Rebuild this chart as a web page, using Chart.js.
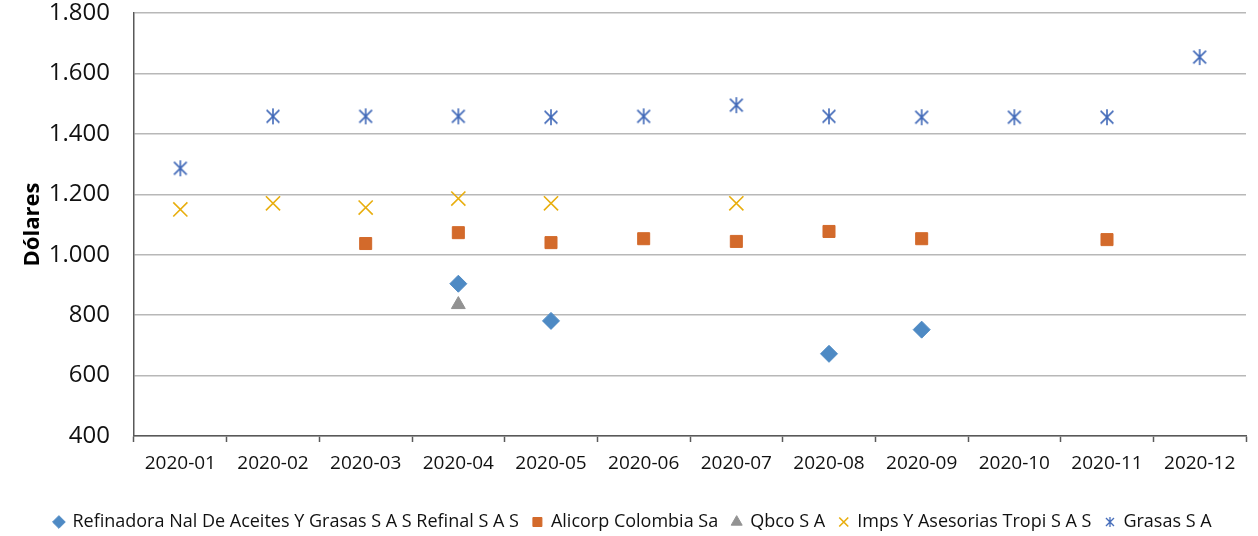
<!DOCTYPE html>
<html>
<head>
<meta charset="utf-8">
<script src="https://cdn.jsdelivr.net/npm/chart.js@4/dist/chart.umd.min.js"></script>
<style>
  html, body { margin: 0; padding: 0; background: #fff; }
  #wrap { width: 1258px; height: 536px; position: relative; }
</style>
</head>
<body>
<div id="wrap"><canvas id="chart"></canvas></div>
<script>
const months = ["2020-01", "2020-02", "2020-03", "2020-04", "2020-05", "2020-06",
  "2020-07", "2020-08", "2020-09", "2020-10", "2020-11", "2020-12"];

const refinal = [null, null, null, 904, 781, null, null, 672, 752, null, null, null];
const alicorp = [null, null, 1037, 1073, 1040, 1053, 1044, 1077, 1053, null, 1050, null];
const qbco = [null, null, null, 835, null, null, null, null, null, null, null, null];
const tropi = [1150, 1170, 1156, 1186, 1170, null, 1170, null, null, null, null, null];
const grasas = [1286, 1458, 1458, 1458, 1455, 1458, 1495, 1458, 1455, 1455, 1455, 1654];

const yTicks = [400, 600, 800, 1000, 1200, 1400, 1600, 1800];

const FONT = "'Open Sans', 'Noto Sans', sans-serif";

// asterisk marker (X plus vertical bar), like the spreadsheet one
function asterisk(size, color, lw) {
  const c = document.createElement("canvas");
  c.width = size; c.height = size;
  const g = c.getContext("2d");
  const m = size / 2, r = size / 2 - 1;
  g.strokeStyle = color;
  g.lineWidth = lw;
  g.beginPath();
  g.moveTo(m, m - r); g.lineTo(m, m + r);
  g.moveTo(m - r * 0.8, m - r * 0.8); g.lineTo(m + r * 0.8, m + r * 0.8);
  g.moveTo(m + r * 0.8, m - r * 0.8); g.lineTo(m - r * 0.8, m + r * 0.8);
  g.stroke();
  return c;
}
const starBig = asterisk(18, "#4169B8", 1.6);
const starSmall = asterisk(12, "#4169B8", 1.3);

function ds(label, data, style, color, radius, extra) {
  return Object.assign({
    label, data,
    showLine: false,
    pointStyle: style,
    pointRadius: radius,
    pointHoverRadius: radius,
    pointBackgroundColor: color,
    pointBorderColor: color,
    backgroundColor: color,
    borderColor: color,
    pointBorderWidth: 1,
  }, extra || {});
}

new Chart(document.getElementById("chart"), {
  type: "line",
  data: {
    labels: months,
    datasets: [
      ds("Refinadora Nal De Aceites Y Grasas S A S Refinal S A S", refinal, "rectRot", "#4E8AC4", 8.5),
      ds("Alicorp Colombia Sa", alicorp, "rect", "#D36A2B", 8.5),
      ds("Qbco S A", qbco, "triangle", "#929292", 8),
      ds("Imps Y Asesorias Tropi S A S", tropi, "crossRot", "#E8AE0E", 10, { pointBorderWidth: 1.6 }),
      ds("Grasas S A", grasas, starBig, "#4169B8", 9),
    ],
  },
  options: {
    responsive: true,
    maintainAspectRatio: false,
    animation: false,
    layout: { padding: { top: 13, right: 12, left: 20, bottom: -5 } },
    scales: {
      x: {
        offset: true,
        grid: {
          offset: true,
          drawOnChartArea: false,
          drawTicks: true,
          tickLength: 6,
          tickColor: "#595959",
          tickWidth: 1.5,
        },
        border: { color: "#595959", width: 1.5 },
        ticks: {
          color: "#111",
          font: { family: FONT, size: 19 },
          padding: 10,
          maxRotation: 0,
        },
        afterFit: (s) => {
          s.height = 63;
          s.paddingLeft = 0; s.paddingRight = 0;
        },
      },
      y: {
        min: 400,
        max: 1800,
        afterBuildTicks: (s) => { s.ticks = yTicks.map((v) => ({ value: v })); },
        grid: { color: "#b8b8b8", lineWidth: 1.5, drawTicks: false },
        border: { color: "#595959", width: 1.5 },
        ticks: {
          color: "#111",
          font: { family: FONT, size: 24 },
          padding: 24,
          callback: (v) => v.toString().replace(/\B(?=(\d{3})+(?!\d))/g, "."),
        },
        title: {
          display: true,
          text: "Dólares",
          color: "#000",
          font: { family: FONT, size: 22, weight: "bold" },
          padding: { top: 0, bottom: 0 },
        },
        afterFit: (s) => {
          s.width = 114;
          s.paddingTop = 0; s.paddingBottom = 0;
        },
      },
    },
    plugins: {
      legend: {
        position: "bottom",
        labels: {
          usePointStyle: true,
          boxHeight: 9,
          boxWidth: 9,
          padding: 14,
          color: "#111",
          font: { family: FONT, size: 18 },
          generateLabels: (chart) => {
            const items = Chart.defaults.plugins.legend.labels.generateLabels(chart);
            items.forEach((it) => {
              if (it.pointStyle === starBig) it.pointStyle = starSmall;
            });
            return items;
          },
        },
      },
      tooltip: { enabled: false },
    },
  },
});
</script>
</body>
</html>
